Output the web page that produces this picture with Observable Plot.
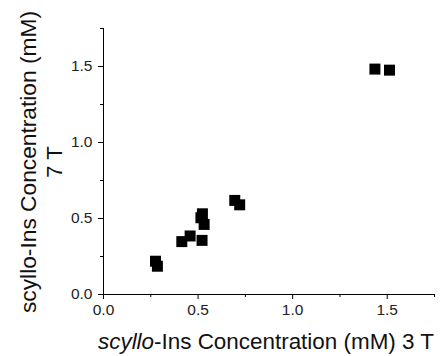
<!DOCTYPE html>
<html>
<head>
<meta charset="utf-8">
<script src="https://cdn.jsdelivr.net/npm/d3@7"></script>
<script src="https://cdn.jsdelivr.net/npm/@observablehq/plot@0.6"></script>
<style>
  body { margin: 0; background: #fff; }
  svg { font-family: "Liberation Sans", Arial, sans-serif; }
</style>
</head>
<body>
<div id="chart"></div>
<script>
const conc3T = [1.435, 1.512, 0.694, 0.720, 0.523, 0.515, 0.532, 0.521, 0.458, 0.414, 0.275, 0.285];
const conc7T = [1.483, 1.476, 0.619, 0.590, 0.531, 0.505, 0.461, 0.356, 0.385, 0.348, 0.219, 0.186];
const majorTicks = [0, 0.5, 1.0, 1.5];
const minorTicks = [0.25, 0.75, 1.25, 1.75];
const yTitle = ["scyllo-Ins Concentration (mM)", "7 T"];
const xTitleItalic = "scyllo";
const xTitleRest = "-Ins Concentration (mM) 3 T";

const data = conc3T.map((x, i) => ({x, y: conc7T[i]}));

const chart = Plot.plot({
  width: 441,
  height: 356,
  marginLeft: 103,
  marginRight: 7,
  marginTop: 28,
  marginBottom: 62,
  style: {fontFamily: '"Liberation Sans", Arial, sans-serif', background: "#fff", color: "#000"},
  x: {domain: [0, 1.75], axis: null, label: null},
  y: {domain: [0, 1.75], axis: null, label: null},
  marks: [
    Plot.axisX(majorTicks, {tickSize: 5, tickFormat: d3.format(".1f"), fontSize: 15.5, tickPadding: 4, stroke: "#000", fill: "#222", label: null}),
    Plot.axisX(minorTicks, {tickSize: 3, tickFormat: null, text: null, stroke: "#000", label: null}),
    Plot.axisY(majorTicks, {tickSize: 5, tickFormat: d3.format(".1f"), fontSize: 15.5, tickPadding: 6, stroke: "#000", fill: "#222", label: null}),
    Plot.axisY(minorTicks, {tickSize: 3, tickFormat: null, text: null, stroke: "#000", label: null}),
    Plot.ruleY([0], {stroke: "#000", strokeWidth: 1}),
    Plot.ruleX([0], {stroke: "#000", strokeWidth: 1}),
    Plot.dot(data, {x: "x", y: "y", symbol: "square", r: 6.2, fill: "#000", stroke: "none"})
  ]
});

const svg = d3.select(chart);
const fs = 22;
const t = svg.append("text")
  .attr("x", 98)
  .attr("y", 349)
  .attr("text-anchor", "start")
  .attr("font-size", fs)
  .attr("fill", "#111")
  .attr("textLength", 336)
  .attr("lengthAdjust", "spacingAndGlyphs");
t.append("tspan").attr("font-style", "italic").text(xTitleItalic);
t.append("tspan").text(xTitleRest);

const yt = svg.append("g").attr("transform", "translate(0,162) rotate(-90)");
yt.append("text").attr("x", 0).attr("y", 36).attr("text-anchor", "middle").attr("font-size", fs).attr("fill", "#111")
  .attr("textLength", 302).attr("lengthAdjust", "spacingAndGlyphs").text(yTitle[0]);
yt.append("text").attr("x", 0).attr("y", 62).attr("text-anchor", "middle").attr("font-size", fs).attr("fill", "#111").text(yTitle[1]);

document.getElementById("chart").append(chart);
</script>
</body>
</html>
